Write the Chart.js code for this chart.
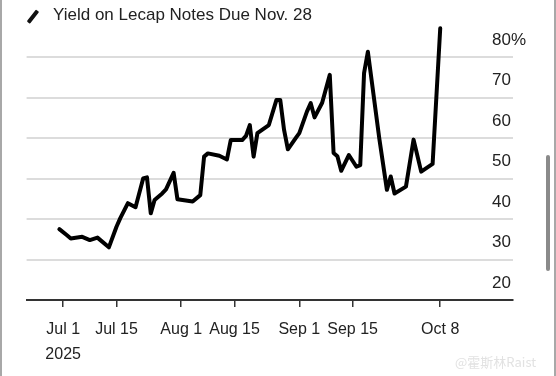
<!DOCTYPE html>
<html><head><meta charset="utf-8">
<script src="https://cdn.jsdelivr.net/npm/chart.js@4.4.1/dist/chart.umd.min.js"></script>
<style>
html,body{margin:0;padding:0;background:#fff;}
#wrap{position:relative;width:556px;height:376px;overflow:hidden;background:#fff;}
#c{position:absolute;left:0;top:0;}
#title{position:absolute;left:53px;top:5px;font:17px "Liberation Sans",Arial,sans-serif;color:#222;white-space:nowrap;}
#icon{position:absolute;left:31px;top:9px;width:3.5px;height:15px;background:#111;transform:rotate(38deg);border-radius:1px;}
#lb{position:absolute;left:0;top:0;width:2px;height:376px;background:#a8a8a8;}
#rb{position:absolute;left:554px;top:0;width:2px;height:376px;background:#a8a8a8;}
#sb{position:absolute;left:546px;top:155px;width:4px;height:116px;background:#8a8a8a;border-radius:2px;}
#wm{position:absolute;left:455px;top:352px;font:13px "Noto Sans CJK SC","Liberation Sans",sans-serif;color:#e2e2e2;white-space:nowrap;}
</style></head>
<body>
<div id="wrap">
<canvas id="c" width="556" height="376"></canvas>
<div id="icon"></div>
<div id="title">Yield on Lecap Notes Due Nov. 28</div>
<div id="sb"></div>
<div id="lb"></div><div id="rb"></div>
<div id="wm">@霍斯林Raist</div>
</div>
<script>
const titleText = 'Yield on Lecap Notes Due Nov. 28';
const dates = ['2025-06-30','2025-07-02','2025-07-03','2025-07-06','2025-07-08','2025-07-10','2025-07-13','2025-07-15','2025-07-16','2025-07-18',
'2025-07-20','2025-07-22','2025-07-23','2025-07-24','2025-07-25','2025-07-27','2025-07-28','2025-07-30','2025-07-31','2025-08-04',
'2025-08-06','2025-08-07','2025-08-08','2025-08-11','2025-08-13','2025-08-14','2025-08-17','2025-08-18','2025-08-19','2025-08-20',
'2025-08-21','2025-08-24','2025-08-26','2025-08-27','2025-08-28','2025-08-29','2025-08-31','2025-09-01','2025-09-03','2025-09-04',
'2025-09-05','2025-09-07','2025-09-09','2025-09-10','2025-09-11','2025-09-12','2025-09-14','2025-09-16','2025-09-17','2025-09-18',
'2025-09-19','2025-09-22','2025-09-24','2025-09-25','2025-09-26','2025-09-29','2025-10-01','2025-10-03','2025-10-06','2025-10-08'];
const yields = [37.5,36.0,35.2,35.6,34.8,35.4,33.0,38.1,40.2,43.9,
42.9,50.0,50.3,41.4,44.7,46.3,47.3,51.4,44.9,44.3,
45.9,55.4,56.2,55.6,54.7,59.5,59.5,60.5,63.2,55.4,
61.2,63.2,69.4,69.4,62.0,57.2,59.9,61.2,66.5,68.6,
65.1,68.7,75.6,56.3,55.5,51.9,55.8,52.9,53.3,76.0,
81.3,59.9,47.2,50.5,46.3,48.0,59.6,51.7,53.6,87.1];
const xTickDates = ['2025-07-01','2025-07-15','2025-08-01','2025-08-15','2025-09-01','2025-09-15','2025-10-08'];
const xTickLabels = ['Jul 1','Jul 15','Aug 1','Aug 15','Sep 1','Sep 15','Oct 8'];
const yearLabel = '2025';
const yTicks = [20,30,40,50,60,70,80];
const yTickLabels = ['20','30','40','50','60','70','80%'];

const base = Date.parse('2025-07-01');
const dayOf = d => (Date.parse(d) - base) / 86400000;
const points = dates.map((d,i) => ({x: dayOf(d), y: yields[i]}));
const tickDays = xTickDates.map(dayOf);

// Draws the y tick labels left-aligned above their gridlines, positioned by the y scale.
const yLabelPlugin = {
  id: 'yLabels',
  afterDraw(chart) {
    const s = chart.scales.y, ctx = chart.ctx;
    ctx.save();
    ctx.font = '17px "Liberation Sans", Arial, sans-serif';
    ctx.fillStyle = '#222';
    ctx.textAlign = 'left';
    ctx.textBaseline = 'middle';
    s.ticks.forEach((t, i) => {
      const idx = yTicks.indexOf(t.value);
      if (idx < 0) return;
      ctx.fillText(yTickLabels[idx], 492, s.getPixelForValue(t.value) - 17);
    });
    ctx.restore();
  }
};

new Chart(document.getElementById('c'), {
  type: 'line',
  data: { datasets: [{ data: points, borderColor: '#000', borderWidth: 4, pointRadius: 0, tension: 0, borderJoinStyle: 'round', borderCapStyle: 'round', fill: false }] },
  options: {
    responsive: false, animation: false, devicePixelRatio: 1,
    layout: { padding: { left: 26.6, right: 0, top: 16.5, bottom: 0 } },
    plugins: { legend: { display: false }, tooltip: { enabled: false } },
    scales: {
      x: {
        type: 'linear', min: -9.6, max: 118,
        afterBuildTicks: s => { s.ticks = tickDays.map(v => ({value: v})); },
        afterFit: s => { s.height = 76; },
        grid: { display: true, drawOnChartArea: false, drawTicks: true, tickLength: 7, color: '#333', lineWidth: 1.5 },
        border: { display: true, color: '#333', width: 2 },
        ticks: {
          autoSkip: false, maxRotation: 0, minRotation: 0, padding: 10, color: '#222',
          font: { family: '"Liberation Sans", Arial, sans-serif', size: 16, lineHeight: 1.55 },
          callback: (v, i) => i === 0 ? [xTickLabels[0], yearLabel] : xTickLabels[i]
        }
      },
      y: {
        position: 'right', min: 20, max: 90,
        afterBuildTicks: s => { s.ticks = yTicks.map(v => ({value: v})); },
        afterFit: s => { s.width = 43.4; },
        grid: { drawTicks: false, color: c => c.tick && c.tick.value === 20 ? 'rgba(0,0,0,0)' : '#dcdcdc', lineWidth: 2 },
        border: { display: false },
        ticks: { display: false }
      }
    }
  },
  plugins: [yLabelPlugin]
});
</script>
</body></html>
